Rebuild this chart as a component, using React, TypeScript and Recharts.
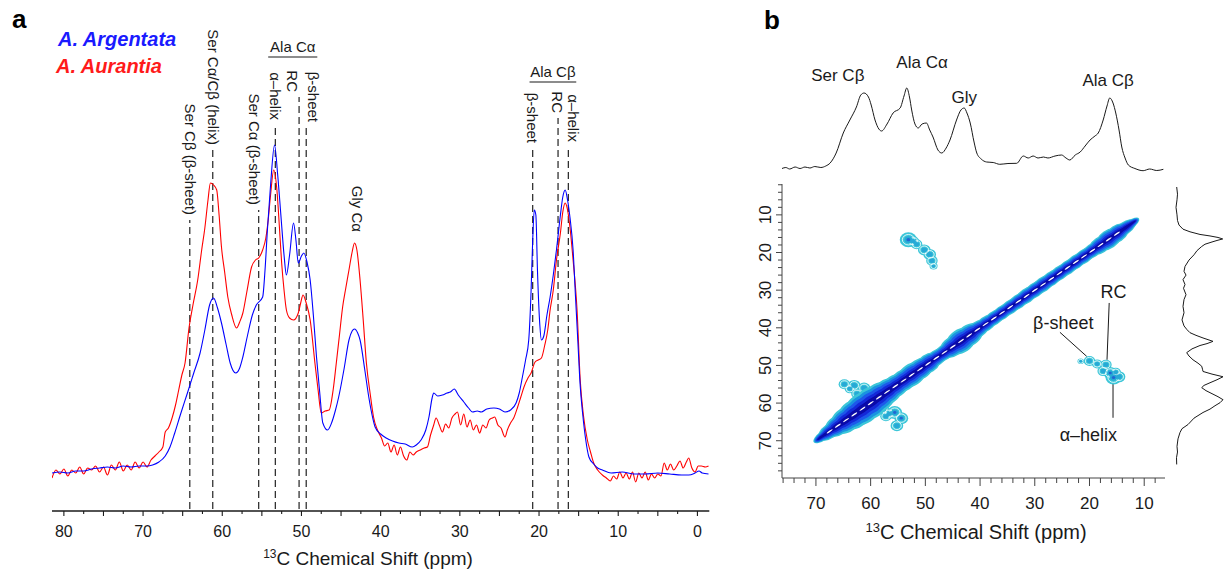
import React from 'react';
import {
  LineChart,
  Line,
  XAxis,
  YAxis,
  ReferenceLine,
  ReferenceDot,
  ComposedChart,
  Scatter,
  ScatterChart,
} from 'recharts';

const FONT = '"Liberation Sans", Arial, Helvetica, sans-serif';
const INK = '#1a1a1a';

// ---------- panel a: 1D 13C CP spectra (intensity in arbitrary units) ----------
const blueShift = [
  81.5, 80.5, 79.5, 78.5, 77.5, 76.5, 75.5, 74.5, 73.5, 72.5, 71.5, 70.5, 69.5, 68.8, 68.0, 67.2, 66.6, 66.0,
  65.3, 64.4, 63.6, 62.8, 62.2, 61.6, 61.1, 60.6, 60.1, 59.5, 59.0, 58.3, 57.8, 57.4, 56.8, 56.2, 55.7, 54.9,
  54.6, 54.3, 53.9, 53.4, 53.0, 52.6, 52.2, 51.9, 51.5, 51.0, 50.7, 50.4, 50.0, 49.7, 49.3, 48.9, 48.5, 48.1,
  47.7, 47.3, 46.7, 46.2, 45.7, 45.3, 44.6, 44.0, 43.6, 43.3, 42.9, 42.6, 42.0, 41.5, 41.0, 40.7, 40.0, 39.3,
  38.5, 37.7, 36.9, 36.0, 35.5, 34.9, 34.3, 33.9, 33.5, 33.3, 32.8, 32.2, 31.6, 31.2, 30.7, 30.2, 29.5, 28.9,
  28.4, 27.8, 27.3, 26.6, 25.7, 25.0, 24.3, 23.6, 22.9, 22.5, 22.1, 21.7, 21.3, 21.0, 20.8, 20.6, 20.4, 20.2,
  19.9, 19.7, 19.4, 19.0, 18.6, 18.2, 17.8, 17.3, 17.0, 16.7, 16.4, 16.1, 15.7, 15.4, 15.1, 14.8, 14.5, 14.1,
  13.7, 13.1, 12.6, 12.0, 10.9, 9.5, 8.0, 6.6, 5.0, 3.5, 2.0, 1.1, 0.3, -0.2, -0.6, -1.4,
];
const blueIntensity = [
  38, 39, 38, 40, 40, 42, 43, 44, 43, 45, 44, 45, 45, 46, 49, 55, 64, 78,
  96, 118, 138, 158, 181, 206, 213, 203, 188, 166, 148, 138, 143, 154, 176, 196, 206, 214,
  241, 281, 326, 366, 336, 296, 256, 236, 256, 288, 271, 248, 255, 258, 249, 231, 196, 154,
  119, 88, 81, 88, 101, 114, 143, 171, 180, 182, 178, 171, 141, 114, 93, 84, 77, 73,
  70, 68, 67, 64, 66, 71, 81, 94, 113, 118, 115, 116, 118, 119, 122, 116, 109, 103,
  99, 100, 99, 102, 103, 102, 99, 101, 108, 118, 134, 151, 171, 221, 271, 301, 296, 241,
  186, 171, 175, 196, 214, 236, 261, 296, 314, 321, 311, 294, 261, 215, 170, 125, 98, 71,
  54, 47, 43, 41, 38, 39, 37, 37, 38, 37, 36, 36, 38, 40, 38, 37,
];

const redShift = [
  81.5, 81.0, 80.5, 80.0, 79.5, 79.0, 78.5, 78.0, 77.5, 77.0, 76.5, 76.0, 75.5, 75.0, 74.5, 74.0, 73.5, 73.0,
  72.5, 72.0, 71.5, 71.0, 70.5, 70.0, 69.5, 69.0, 68.5, 68.0, 67.5, 67.2, 66.8, 66.3, 65.9, 65.5, 65.1, 64.7,
  64.2, 63.7, 63.1, 62.6, 62.2, 61.8, 61.5, 61.1, 60.7, 60.4, 60.1, 59.7, 59.3, 58.8, 58.2, 57.8, 57.4, 56.9,
  56.3, 55.8, 55.4, 54.9, 54.5, 54.2, 53.9, 53.5, 53.1, 52.8, 52.5, 52.2, 51.9, 51.5, 51.0, 50.4, 50.1, 49.8,
  49.4, 48.9, 48.3, 47.9, 47.5, 47.0, 46.5, 46.0, 45.6, 45.2, 44.8, 44.4, 44.0, 43.6, 43.3, 43.0, 42.6, 42.2,
  41.8, 41.3, 40.9, 40.4, 39.9, 39.5, 39.1, 38.7, 38.3, 37.9, 37.5, 37.1, 36.7, 36.3, 35.9, 35.5, 35.0, 34.5,
  34.1, 33.7, 33.3, 33.0, 32.6, 32.2, 31.8, 31.4, 31.0, 30.6, 30.3, 29.9, 29.5, 29.1, 28.7, 28.3, 27.9, 27.5,
  27.1, 26.7, 26.3, 25.9, 25.6, 25.2, 24.8, 24.3, 24.0, 23.6, 23.2, 22.7, 22.3, 21.9, 21.4, 21.0, 20.5, 20.1,
  19.7, 19.3, 18.9, 18.6, 18.2, 17.8, 17.3, 17.0, 16.7, 16.4, 16.1, 15.7, 15.2, 14.8, 14.4, 13.9, 13.5, 13.1,
  12.6, 12.0, 11.5, 11.0, 10.6, 10.2, 9.8, 9.4, 9.0, 8.6, 8.2, 7.8, 7.4, 7.0, 6.6, 6.2, 5.8, 5.4,
  5.0, 4.6, 4.2, 3.8, 3.4, 3.0, 2.6, 2.2, 1.8, 1.4, 1.1, 0.7, 0.3, -0.1, -0.5, -1.0, -1.4,
];
const redIntensity = [
  33, 41, 37, 42, 35, 41, 38, 44, 37, 43, 41, 45, 39, 44, 36, 46, 41, 49,
  40, 46, 41, 49, 43, 49, 44, 51, 55, 59, 64, 79, 83, 94, 106, 121, 136, 148,
  183, 206, 231, 261, 283, 311, 328, 326, 321, 296, 264, 239, 214, 196, 183, 189, 198, 219,
  244, 251, 253, 261, 273, 291, 316, 341, 321, 286, 248, 221, 201, 193, 191, 198, 208, 216,
  208, 191, 148, 121, 98, 100, 101, 121, 148, 176, 204, 223, 241, 259, 268, 261, 231, 191,
  148, 116, 94, 81, 73, 65, 68, 59, 66, 56, 64, 55, 51, 59, 56, 59, 61, 63,
  64, 76, 86, 93, 86, 79, 87, 83, 93, 97, 99, 86, 97, 84, 91, 81, 86, 78,
  86, 83, 91, 93, 94, 86, 83, 74, 81, 88, 93, 104, 114, 124, 133, 138, 149, 151,
  153, 165, 181, 201, 221, 251, 278, 299, 308, 301, 284, 251, 201, 131, 96, 71, 59, 48,
  41, 36, 33, 30, 35, 32, 39, 33, 38, 32, 39, 29, 38, 33, 39, 31, 37, 33,
  37, 35, 48, 41, 47, 41, 45, 50, 43, 49, 53, 43, 39, 45, 45, 44, 45,
];

const argentata = blueShift.map((ppm, i) => ({ ppm, v: blueIntensity[i] }));
const aurantia = redShift.map((ppm, i) => ({ ppm, v: redIntensity[i] }));

const ticksA = [
  0, 2.5, 5, 7.5, 10, 12.5, 15, 17.5, 20, 22.5, 25, 27.5, 30, 32.5, 35, 37.5, 40,
  42.5, 45, 47.5, 50, 52.5, 55, 57.5, 60, 62.5, 65, 67.5, 70, 72.5, 75, 77.5, 80,
];

// secondary-structure assignments (dashed markers)
const assignShift = [64.1, 61.2, 55.4, 53.3, 50.3, 49.4, 20.8, 17.6, 16.3];
const assignLabel = [
  'Ser Cβ (β-sheet)', 'Ser Cα/Cβ (helix)', 'Ser Cα (β-sheet)', 'α–helix', 'RC', 'β-sheet',
  'β-sheet', 'RC', 'α–helix',
];
// layout only: where each dashed marker stops and small label nudges (px)
const assignTop = [291, 361, 301, 386, 414, 384, 363, 393, 364];
const assignNudge = [0, 0, -4, 0, -7, 7, 0, -1, 5];

const groupLabel = ['Ala Cα', 'Ala Cβ'];
const groupFrom = [54.2, 21.2];
const groupTo = [48.0, 15.3];
const groupLevel = [454, 429];

// ---------- panel b: 2D 13C-13C map and its projections ----------
const topShift = [
  76.2, 75.5, 74.8, 73.8, 72.9, 72.0, 71.1, 70.2, 69.1, 68.2, 67.4, 66.3, 65.0, 63.8, 62.6, 61.8, 61.2, 60.4,
  59.9, 59.2, 58.5, 58.0, 57.0, 55.9, 54.6, 53.9, 53.4, 52.9, 52.5, 51.9, 51.3, 50.6, 49.8, 49.2, 48.6, 47.7,
  47.0, 46.2, 45.5, 44.3, 43.5, 42.9, 42.4, 41.8, 41.1, 40.6, 39.8, 38.8, 37.6, 36.4, 34.9, 33.3, 32.1, 31.2,
  30.3, 29.4, 28.4, 27.6, 26.3, 25.1, 24.3, 23.6, 22.6, 21.7, 20.8, 19.9, 19.0, 18.4, 17.5, 16.8, 16.3, 15.7,
  15.2, 14.6, 14.1, 13.5, 12.9, 11.7, 10.2, 9.0, 7.7, 6.5,
];
const topIntensity = [
  3.5, 4.5, 3, 5, 3.5, 5, 4, 5.5, 4.5, 6, 9, 19, 39, 52, 65, 77, 79, 75,
  67, 52, 43, 41, 48, 59, 64, 76, 84, 75, 62, 48, 44, 48, 49, 42, 35, 22,
  19, 24, 32, 52, 62, 64, 59, 49, 30, 19, 13, 10, 9.5, 7.7, 8.5, 8.7, 16, 14,
  16, 14, 15, 14, 16, 17, 14, 12, 17, 20, 26, 32, 36, 39, 52, 66, 74, 69,
  59, 42, 25, 14, 7, 3.5, 1.3, 3, 1.5, 2.7,
];
const topProjection = topShift.map((ppm, i) => ({ ppm, v: topIntensity[i] }));

const rightShift = [
  2.6, 4.5, 6.0, 8.0, 10.0, 11.5, 12.7, 13.8, 14.5, 15.2, 15.6, 16.0, 16.4, 16.8, 17.2, 17.8, 18.4, 19.5,
  20.6, 22.0, 23.7, 25.0, 26.0, 27.2, 28.5, 29.5, 31.2, 32.5, 34.3, 36.0, 37.9, 39.5, 40.5, 41.3, 42.0, 42.7,
  43.6, 44.2, 44.7, 45.6, 46.6, 47.5, 48.5, 49.4, 50.2, 51.0, 51.6, 52.3, 53.0, 53.8, 54.6, 55.3, 55.9, 56.7,
  57.5, 58.3, 59.1, 59.9, 60.7, 61.6, 62.5, 64.0, 65.7, 66.8, 67.8, 69.5, 71.5, 73.0, 74.5, 76.3,
];
const rightIntensity = [
  6.7, 7.5, 7, 6, 7, 7.5, 9, 13, 20, 30, 40, 48, 52.7, 47, 42, 35, 31.7, 27,
  24, 19, 15, 14, 16, 13, 15, 13.5, 16, 14, 13, 14, 12, 14, 17, 20, 26, 33,
  43, 37, 30, 22, 16.7, 19, 23, 28, 31.7, 32.5, 33, 42, 53, 47, 40, 34, 31.7, 36,
  42, 48, 53, 50, 45, 40, 33, 24, 18, 12, 10, 8, 7, 7.5, 6.5, 6.7,
];
const rightProjection = rightShift.map((ppm, i) => ({ ppm, v: rightIntensity[i] }));

// diagonal ridge: position and contour level
const diagShift = [
  68.7, 67.5, 66, 64.5, 63, 61.5, 60, 58.5, 57, 55.5, 54, 52.5, 51, 49.5, 48, 46.5, 45, 43.5, 42, 40.5,
  39, 37.5, 36, 34.5, 33, 31.5, 30, 28.5, 27, 25.5, 24, 22.5, 21, 19.5, 18, 16.5, 15, 13.5, 12.6,
];
const diagLevel = [
  5.5, 8.5, 11.5, 14.5, 16.5, 18, 18, 16.5, 14.5, 13, 12.5, 13, 12, 11, 9, 9, 11.5, 14, 12.5, 9.5,
  8.5, 8, 8, 8, 8.2, 8.5, 8.5, 8.5, 8.2, 8, 8, 8, 8, 8, 9.5, 11, 10, 7.5, 5,
];
const diagonal = diagShift.map((s, i) => ({ x: s, y: s, level: diagLevel[i] }));

// cross peaks (F2, F1, contour level)
const crossF2 = [
  53.1, 52.2, 51.6, 50.2, 49.2, 48.8, 48.5, 64.8, 63.8, 63.0, 61.2, 62.5, 57.8, 56.6, 55.6, 54.4, 55.2, 57.2,
  21.6, 20.0, 18.6, 17.0, 17.5, 16.2, 15.6, 14.6, 15.2,
];
const crossF1 = [
  16.6, 17.0, 17.8, 19.3, 20.5, 22.2, 23.6, 55.0, 56.2, 55.3, 56.0, 57.5, 61.5, 62.8, 62.5, 64.0, 66.0, 63.5,
  48.9, 48.8, 49.6, 49.8, 51.5, 52.0, 53.2, 53.0, 51.8,
];
const crossLevel = [
  7.5, 5, 5, 5.5, 5.5, 5, 3.5, 5, 4.5, 5.5, 5.5, 5, 5.5, 5, 6.5, 6, 5.5, 5,
  2.8, 5, 4.5, 5, 5, 6, 7, 5.5, 4.5,
];
const crossPeaks = crossF2.map((x, i) => ({ x, y: crossF1[i], level: crossLevel[i] }));

const ticksB = [
  8, 10, 12, 14, 16, 18, 20, 22, 24, 26, 28, 30, 32, 34, 36, 38, 40, 42, 44, 46, 48, 50,
  52, 54, 56, 58, 60, 62, 64, 66, 68, 70, 72, 74, 76,
];
const ticksBy = [
  2, 4, 6, 8, 10, 12, 14, 16, 18, 20, 22, 24, 26, 28, 30, 32, 34, 36, 38, 40,
  42, 44, 46, 48, 50, 52, 54, 56, 58, 60, 62, 64, 66, 68, 70, 72, 74, 76, 78,
];

const PX_X = 383 / 70;
const PX_Y = 294 / 78.1;
const DIAG_ANGLE = (-Math.atan2(PX_Y, PX_X) * 180) / Math.PI;

const diagColors = ['#3cc6d8', '#1a93e0', '#1d58ea', '#1428d8', '#0a0aa8'];
const diagScale = [1, 0.84, 0.66, 0.46, 0.26];
const crossColors = ['#3cc6d8', '#ffffff', '#27a9d6', '#2266d2'];
const crossScale = [1, 0.7, 0.45, 0.22];

const diagShape = (layer: number) => (p: any) => {
  const w = p.payload.level;
  const k = diagScale[layer];
  return (
    <ellipse
      cx={p.cx}
      cy={p.cy}
      rx={(8 + w * 0.6) * (0.5 + 0.5 * k)}
      ry={w * k * 0.85}
      fill={diagColors[layer]}
      transform={`rotate(${DIAG_ANGLE} ${p.cx} ${p.cy})`}
    />
  );
};

const diagCore = (p: any) =>
  p.payload.level < 8 ? (
    <g />
  ) : (
    <ellipse cx={p.cx} cy={p.cy} rx={3.5} ry={0.7} fill="#fff" transform={`rotate(${DIAG_ANGLE} ${p.cx} ${p.cy})`} />
  );

const crossShape = (layer: number) => (p: any) => {
  const r = p.payload.level * crossScale[layer];
  if (layer === 3 && p.payload.level < 6) return <g />;
  if (layer === 1)
    return <ellipse cx={p.cx} cy={p.cy} rx={r * 1.15} ry={r} fill="none" stroke="#fff" strokeWidth={0.8} />;
  return <ellipse cx={p.cx} cy={p.cy} rx={r * 1.15} ry={r} fill={crossColors[layer]} />;
};

// panel b annotation leaders (ppm coordinates)
const leaders = [
  { label: 'RC', from: { x: 16.4, y: 33.4 }, to: { x: 16.8, y: 48.5 }, at: { x: 15.6, y: 30.3 } },
  { label: 'β-sheet', from: { x: 25.4, y: 41.2 }, to: { x: 20.5, y: 47.6 }, at: { x: 24.8, y: 38.6 } },
  { label: 'α–helix', from: { x: 15.7, y: 53.8 }, to: { x: 15.7, y: 63.9 }, at: { x: 20.2, y: 68.4 } },
];

const topLabel = ['Ser Cβ', 'Ala Cα', 'Gly', 'Ala Cβ'];
const topLabelShift = [66.0, 50.6, 42.9, 16.6];
const topLabelLevel = [97, 110, 75, 92];

// ---------- small renderers ----------
const verticalText = (text: string, dx: number, gap = 5) => (p: any) => (
  <text
    transform={`translate(${p.cx + dx},${p.cy - gap}) rotate(90)`}
    textAnchor="end"
    dy="0.35em"
    fontSize={15}
    fontFamily={FONT}
    fill={INK}
  >
    {text}
  </text>
);

const centerText = (text: string, size: number, dy = 0) => (p: any) => (
  <text x={p.cx} y={p.cy + dy} textAnchor="middle" dy="0.35em" fontSize={size} fontFamily={FONT} fill={INK}>
    {text}
  </text>
);

const TickA = (p: any) => {
  const v = p.payload.value;
  const len = v % 5 === 0 ? 5 : 3;
  return (
    <g>
      <line x1={p.x} x2={p.x} y1={p.y} y2={p.y + len} stroke={INK} strokeWidth={1.1} />
      {v % 10 === 0 && (
        <text x={p.x} y={p.y + 26} textAnchor="middle" fontSize={16} fontFamily={FONT} fill={INK}>
          {v}
        </text>
      )}
    </g>
  );
};

const TickBx = (p: any) => {
  const v = p.payload.value;
  const major = v % 10 === 0;
  return (
    <g>
      <line x1={p.x} x2={p.x} y1={p.y} y2={p.y + (major ? 8 : 5)} stroke="#444" />
      {major && (
        <text x={p.x} y={p.y + 31} textAnchor="middle" fontSize={17} fontFamily={FONT} fill={INK}>
          {v}
        </text>
      )}
    </g>
  );
};

const TickBy = (p: any) => {
  const v = p.payload.value;
  const major = v % 10 === 0;
  return (
    <g>
      <line x1={p.x} x2={p.x - (major ? 6 : 4)} y1={p.y} y2={p.y} stroke="#444" />
      {major && (
        <text
          transform={`translate(${p.x - 17},${p.y}) rotate(-90)`}
          textAnchor="middle"
          dy="0.35em"
          fontSize={17}
          fontFamily={FONT}
          fill={INK}
        >
          {v}
        </text>
      )}
    </g>
  );
};

const abs = (left: number, top: number): React.CSSProperties => ({ position: 'absolute', left, top });

const App = () => {
  return (
    <div style={{ position: 'absolute', left: 0, top: 0, width: 1225, height: 573, background: '#fff', overflow: 'hidden' }}>
      {/* panel a */}
      <div style={abs(0, 0)}>
        <LineChart width={720} height={573} margin={{ top: 30, right: 10.7, bottom: 17, left: 52 }}>
          <XAxis
            dataKey="ppm"
            type="number"
            domain={[-1.5, 81.5]}
            reversed
            allowDataOverflow
            ticks={ticksA}
            interval={0}
            tickSize={0}
            tickMargin={0}
            tick={<TickA />}
            height={45}
            axisLine={{ stroke: INK, strokeWidth: 1.3 }}
          />
          <YAxis type="number" domain={[0, 481]} allowDataOverflow hide />
          {assignShift.map((s, i) => (
            <ReferenceLine
              key={`d${i}`}
              segment={[{ x: s, y: 2 }, { x: s, y: assignTop[i] }]}
              stroke="#222"
              strokeWidth={1.2}
              strokeDasharray="7 4"
            />
          ))}
          {assignShift.map((s, i) => (
            <ReferenceDot
              key={`t${i}`}
              x={s}
              y={assignTop[i]}
              r={0}
              shape={verticalText(assignLabel[i], assignNudge[i])}
            />
          ))}
          {groupLabel.map((g, i) => (
            <ReferenceLine
              key={`g${i}`}
              segment={[{ x: groupFrom[i], y: groupLevel[i] }, { x: groupTo[i], y: groupLevel[i] }]}
              stroke={INK}
              strokeWidth={1.1}
            />
          ))}
          {groupLabel.map((g, i) => (
            <ReferenceDot
              key={`gl${i}`}
              x={(groupFrom[i] + groupTo[i]) / 2}
              y={groupLevel[i]}
              r={0}
              shape={centerText(g, 15, -10)}
            />
          ))}
          <ReferenceDot x={43.0} y={279} r={0} shape={verticalText('Gly Cα', 0, 0)} />
          <Line
            data={aurantia}
            dataKey="v"
            type="monotone"
            stroke="#ff0000"
            strokeWidth={1.1}
            dot={false}
            activeDot={false}
            isAnimationActive={false}
          />
          <Line
            data={argentata}
            dataKey="v"
            type="monotone"
            stroke="#0000ff"
            strokeWidth={1.1}
            dot={false}
            activeDot={false}
            isAnimationActive={false}
          />
        </LineChart>
      </div>

      {/* panel b: top projection */}
      <div style={abs(740, 40)}>
        <LineChart width={440} height={140} data={topProjection} margin={{ top: 10, right: 15, bottom: 8, left: 42 }}>
          <XAxis dataKey="ppm" type="number" domain={[6.2, 76.2]} reversed allowDataOverflow hide />
          <YAxis type="number" domain={[0, 122]} allowDataOverflow hide />
          {topLabel.map((t, i) => (
            <ReferenceDot key={t} x={topLabelShift[i]} y={topLabelLevel[i]} r={0} shape={centerText(t, 17)} />
          ))}
          <Line
            dataKey="v"
            type="monotone"
            stroke={INK}
            strokeWidth={1}
            dot={false}
            activeDot={false}
            isAnimationActive={false}
          />
        </LineChart>
      </div>

      {/* panel b: 2D map */}
      <div style={abs(740, 170)}>
        <ComposedChart width={440} height={403} margin={{ top: 14, right: 15, bottom: 35, left: 12 }}>
          <XAxis
            dataKey="x"
            type="number"
            domain={[6.2, 76.2]}
            reversed
            allowDataOverflow
            ticks={ticksB}
            interval={0}
            tickSize={0}
            tickMargin={0}
            tick={<TickBx />}
            height={60}
            axisLine={{ stroke: '#444' }}
          />
          <XAxis
            xAxisId="top"
            orientation="top"
            type="number"
            domain={[6.2, 76.2]}
            allowDataOverflow
            height={0}
            tick={false}
            tickLine={false}
            axisLine={{ stroke: '#444' }}
          />
          <YAxis
            dataKey="y"
            type="number"
            domain={[1.8, 79.9]}
            reversed
            allowDataOverflow
            ticks={ticksBy}
            interval={0}
            tickSize={0}
            tickMargin={0}
            tick={<TickBy />}
            width={30}
            axisLine={{ stroke: '#444' }}
          />
          <YAxis
            yAxisId="right"
            orientation="right"
            type="number"
            domain={[1.8, 79.9]}
            allowDataOverflow
            width={0}
            tick={false}
            tickLine={false}
            axisLine={{ stroke: '#444' }}
          />
          {[0, 1, 2, 3].map((k) => (
            <Scatter key={`c${k}`} data={crossPeaks} shape={crossShape(k)} isAnimationActive={false} />
          ))}
          {[0, 1, 2, 3, 4].map((k) => (
            <Scatter key={`dg${k}`} data={diagonal} shape={diagShape(k)} isAnimationActive={false} />
          ))}
          <Scatter data={diagonal} shape={diagCore} isAnimationActive={false} />
          {leaders.map((l) => (
            <ReferenceLine key={`l${l.label}`} segment={[l.from, l.to]} stroke={INK} strokeWidth={1} />
          ))}
          {leaders.map((l) => (
            <ReferenceDot key={`lt${l.label}`} x={l.at.x} y={l.at.y} r={0} shape={centerText(l.label, 18)} />
          ))}
        </ComposedChart>
      </div>

      {/* panel b: side projection */}
      <div style={abs(1165, 170)}>
        <ScatterChart width={60} height={403} margin={{ top: 14, right: 0, bottom: 95, left: 5 }}>
          <XAxis dataKey="v" type="number" domain={[0, 55]} allowDataOverflow hide />
          <YAxis dataKey="ppm" type="number" domain={[1.8, 79.9]} reversed allowDataOverflow hide />
          <Scatter
            data={rightProjection}
            line={{ stroke: INK, strokeWidth: 1 }}
            lineType="joint"
            shape={() => <g />}
            isAnimationActive={false}
          />
        </ScatterChart>
      </div>

      {/* free text */}
      <svg width={1225} height={573} style={{ position: 'absolute', left: 0, top: 0, pointerEvents: 'none' }}>
        <text x={12} y={28} fontSize={26} fontWeight="bold" fontFamily={FONT} fill="#000">
          a
        </text>
        <text x={764} y={29} fontSize={26} fontWeight="bold" fontFamily={FONT} fill="#000">
          b
        </text>
        <text x={58} y={46} fontSize={20} fontWeight="bold" fontStyle="italic" fontFamily={FONT} fill="#1a1aff">
          A. Argentata
        </text>
        <text x={56} y={73} fontSize={20} fontWeight="bold" fontStyle="italic" fontFamily={FONT} fill="#ff1a1a">
          A. Aurantia
        </text>
        <text x={368} y={565} textAnchor="middle" fontSize={19} fontFamily={FONT} fill={INK}>
          <tspan fontSize={12} dy={-7}>
            13
          </tspan>
          <tspan dy={7}>C Chemical Shift (ppm)</tspan>
        </text>
        <text x={976} y={539} textAnchor="middle" fontSize={20} fontFamily={FONT} fill={INK}>
          <tspan fontSize={13} dy={-7}>
            13
          </tspan>
          <tspan dy={7}>C Chemical Shift (ppm)</tspan>
        </text>
      </svg>
    </div>
  );
};

export default App;
